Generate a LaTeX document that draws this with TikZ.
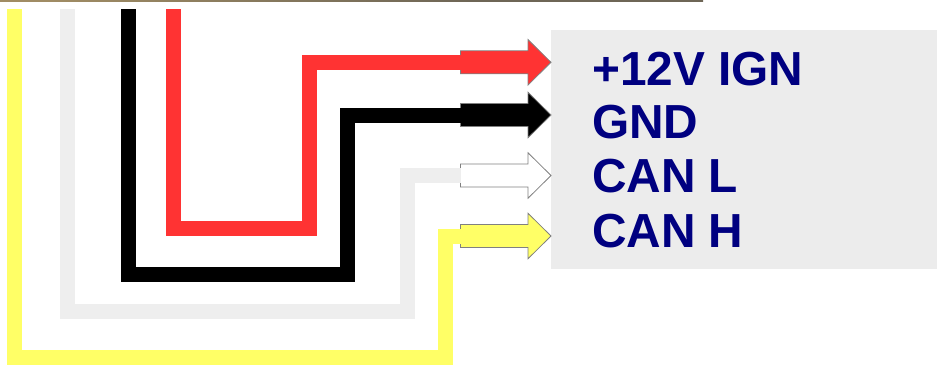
\documentclass[tikz,border=0pt]{standalone}
\usepackage{fontspec}
\setmainfont{Liberation Sans}
\definecolor{wred}{HTML}{FF3333}
\definecolor{wyellow}{HTML}{FFFF66}
\definecolor{wgray}{HTML}{EEEEEE}
\definecolor{boxgray}{HTML}{ECECEC}
\definecolor{labelnavy}{HTML}{000080}
\definecolor{stripa}{HTML}{A08C64}
\definecolor{stripb}{HTML}{6E6656}
\definecolor{stripc}{HTML}{B8B0A0}
\definecolor{arrowedge}{HTML}{808080}
\pgfdeclarehorizontalshading{stripshade}{703bp}{
  color(0bp)=(stripa); color(330bp)=(stripa); color(360bp)=(stripb);
  color(600bp)=(stripb); color(703bp)=(stripc)}
\tikzset{
  wire/.style={line width=15pt,line cap=butt,line join=miter},
  arrowhead/.style={draw=arrowedge,line width=0.8pt,line join=miter},
  lbl/.style={anchor=base west,inner sep=0pt,text=labelnavy,font=\fontsize{47.8}{48}\selectfont\bfseries}
}
\newcommand{\wirearrow}[3]{%
  \coordinate (#1) at (460.5,#2);
  \draw[arrowhead,fill=#3] (460.5,#2-11.5) -- (528,#2-11.5) -- (528,#2-22.75) -- (551,#2)
    -- (528,#2+22.75) -- (528,#2+11.5) -- (460.5,#2+11.5) -- cycle;
}
\begin{document}
\begin{tikzpicture}[x=1pt,y=-1pt]
\useasboundingbox (0,0) rectangle (937,365);
\shade[shading=stripshade] (0,0) rectangle (703,1.8);
\node[fill=boxgray,inner sep=0pt,minimum width=386pt,minimum height=239pt,anchor=north west] (panel) at (551,30) {};
\node[lbl] (ign) at (592,85) {+12V IGN};
\node[lbl] (gnd) at (592,138) {GND};
\node[lbl] (canl) at (592,192) {CAN L};
\node[lbl] (canh) at (592,247.5) {CAN H};
\wirearrow{ared}{62.3}{wred}
\wirearrow{ablack}{115}{black}
\wirearrow{awhite}{175.5}{white}
\wirearrow{ayellow}{236}{wyellow}
\coordinate (tred) at (173,9);
\coordinate (tblack) at (128,9);
\coordinate (tgray) at (67.5,9);
\coordinate (tyellow) at (14.5,9);
\draw[wire,wyellow] (tyellow) -- (14.5,357) -- (445.5,357) -- (445.5,236) -- (ayellow);
\draw[wire,wgray] (tgray) -- (67.5,311.5) -- (407.5,311.5) -- (407.5,175.5) -- (awhite);
\draw[wire,black] (tblack) -- (128,274) -- (347,274) -- (347,115) -- (ablack);
\draw[wire,wred] (tred) -- (173,228.5) -- (309.5,228.5) -- (309.5,62.3) -- (ared);
\end{tikzpicture}
\end{document}
